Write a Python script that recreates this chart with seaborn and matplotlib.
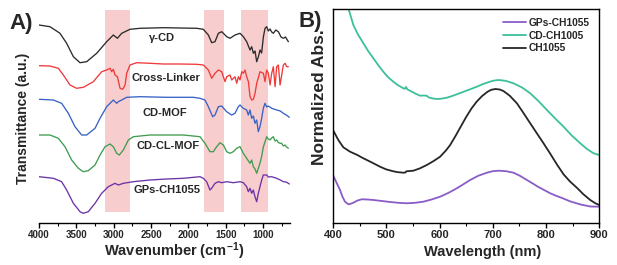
import numpy as np
import pandas as pd
import matplotlib
matplotlib.use("Agg")
import matplotlib.pyplot as plt
import seaborn as sns
from matplotlib.ticker import MultipleLocator

# ---------------- Panel A : FTIR spectra (wavenumber, offset transmittance a.u.) -------------
gcd_w = [4000, 3853, 3719, 3630, 3540, 3451, 3362, 3228, 3094, 3005, 2951, 2893, 2782, 2648, 2335,
         1889, 1800, 1733, 1688, 1644, 1599, 1554, 1487, 1443, 1376, 1309, 1264, 1220, 1175, 1153,
         1130, 1108, 1086, 1063, 1041, 1020, 996, 974, 952, 930, 907, 885, 863, 830, 796, 760, 729, 700, 662]
gcd_t = [198, 196.3, 189.7, 179.7, 166.3, 160.3, 161.3, 169.7, 181.3, 188, 184.7, 189.7, 193.7, 194.7, 195.3,
         194.7, 193.7, 188, 180.3, 181.3, 189.7, 191.3, 186.3, 184.7, 188, 189.7, 186.3, 181.3, 173, 176.3,
         169.7, 172, 161.3, 166.3, 173, 170, 186.3, 194.7, 196.3, 192, 194, 191, 189.7, 193, 191.3, 186, 184.7, 186, 181.3]

cl_w = [4000, 3853, 3741, 3674, 3585, 3496, 3406, 3273, 3161, 3094, 3049, 3027, 3005, 2982, 2951, 2915,
        2880, 2848, 2826, 2782, 2692, 2514, 2335, 2112, 1889, 1800, 1733, 1688, 1644, 1599, 1554, 1510,
        1487, 1443, 1420, 1376, 1353, 1331, 1309, 1286, 1264, 1242, 1220, 1197, 1175, 1153, 1130, 1108,
        1086, 1041, 996, 974, 952, 930, 907, 885, 863, 840, 818, 796, 773, 751, 729, 706, 684, 662]
cl_t = [157.3, 157, 154.7, 148, 138, 134.7, 135.7, 141.3, 151.3, 153, 154.7, 151.3, 153.7, 148, 146.3, 134.7,
        133.7, 138, 149.7, 158, 160.3, 159.7, 159, 159, 158.7, 158, 153, 144.7, 149.7, 153, 151.3, 141.3,
        146.3, 148, 143, 146.3, 139.7, 146.3, 143, 151.3, 149.7, 153, 146.3, 141.3, 126.3, 123, 123.7, 129.7,
        139.7, 151.3, 149.7, 141.3, 153, 149.7, 138, 149.7, 156.3, 136.3, 156.3, 158, 138, 148, 158, 159.7, 156.3, 156.3]

mof_w = [4000, 3808, 3697, 3607, 3518, 3429, 3362, 3250, 3183, 3094, 3005, 2960, 2938, 2893, 2826, 2648,
         2291, 1934, 1845, 1778, 1733, 1675, 1644, 1599, 1555, 1488, 1421, 1376, 1332, 1309, 1265, 1220,
         1198, 1175, 1153, 1130, 1109, 1086, 1064, 1042, 1019, 997, 975, 952, 930, 885, 818, 770, 729, 690, 649]
mof_t = [123.7, 123, 119.7, 109.7, 96.3, 88, 88, 94.7, 104.7, 116.3, 123, 119.7, 121.3, 123, 125.7, 126.3,
         125.7, 125.7, 124.7, 123, 116.3, 106.3, 108, 116.3, 117, 111.3, 108, 109.7, 116.3, 118, 114.7, 113,
         108, 113, 104.7, 107, 99.7, 103, 91.3, 96.3, 104.7, 114.7, 119.7, 116, 117, 114.7, 113, 112, 109.7, 108, 105.7]

clmof_w = [4000, 3853, 3741, 3652, 3563, 3473, 3407, 3340, 3250, 3183, 3116, 3050, 3005, 2960, 2925, 2871,
           2804, 2737, 2514, 2068, 1845, 1778, 1711, 1666, 1622, 1577, 1532, 1488, 1443, 1399, 1354, 1309,
           1287, 1265, 1220, 1175, 1153, 1131, 1108, 1086, 1064, 1042, 1020, 997, 974, 952, 930, 908, 885,
           863, 840, 818, 796, 773, 752, 730, 707, 685, 662]
clmof_t = [88, 88, 84.7, 76.3, 63, 54.7, 51.3, 52.3, 58, 68, 76.3, 79, 76.3, 69.7, 68, 73,
           83, 86.3, 88, 88, 86.3, 79.7, 71.3, 71.3, 76.3, 80.3, 78, 71.3, 69.7, 71.3, 74.7, 76.3,
           73, 69.7, 64.7, 59.7, 63, 56.3, 54, 49.7, 54.7, 59.7, 66.3, 76, 81.3, 86.3, 84, 83, 85,
           86.3, 82, 83, 80.5, 79.7, 79.7, 77, 78, 76, 74.7]

gps_w = [4000, 3808, 3697, 3630, 3540, 3451, 3407, 3340, 3250, 3161, 3072, 2983, 2938, 2871, 2737, 2514,
         2291, 2068, 1845, 1800, 1756, 1711, 1689, 1644, 1599, 1555, 1488, 1399, 1309, 1265, 1220, 1198,
         1175, 1153, 1131, 1109, 1086, 1064, 1042, 1019, 997, 952, 930, 885, 818, 770, 729, 690, 649]
gps_t = [46.3, 44.7, 41.3, 33, 19.7, 11.3, 9.7, 11.3, 19.7, 29.7, 36.3, 39.7, 38, 39.7, 41.3, 43,
         44, 44.7, 46.3, 44.7, 41.3, 33, 34.7, 39.7, 41.3, 40.3, 41.3, 40.3, 41.3, 40.3, 36.3, 31.3,
         34.7, 29.7, 33, 26.3, 21.3, 29.7, 36.3, 43, 48, 48, 46, 46.3, 44.7, 43, 41.3, 41, 39]

ftir_names = ["γ-CD", "Cross-Linker", "CD-MOF", "CD-CL-MOF", "GPs-CH1055"]
ftir_colors = ["#2b2b2b", "#f03a3a", "#3763c6", "#3f9c50", "#6a33a8"]
ftir_label_w = [2353, 2296, 2313, 2273, 2280]
ftir_label_t = [185.3, 144.7, 110, 77, 33]
bands = [(3120, 2780), (1785, 1520), (1290, 940)]

# ---------------- Panel B : UV-Vis-NIR absorbance -------------
gpsB_nm = [400, 406, 413.2, 418, 422.6, 428.8, 433, 438.2, 446, 454, 465, 475.8, 492, 507.1, 523, 538.5,
           554, 569.7, 585, 601.1, 617, 632.5, 645, 657.5, 673, 688.9, 700, 710.7, 725, 738.9, 751,
           764.1, 775, 785, 797, 808, 820, 830, 845.5, 865, 883, 900]
gpsB_a = [48, 41, 33, 26, 21.3, 18.7, 19.2, 20.3, 22.5, 23.7, 23.5, 23, 22, 21, 20.2, 19.7,
          20.2, 21.3, 23.5, 26.3, 30.2, 34.7, 38.8, 43, 47.3, 50.3, 51.8, 52.3, 51.8, 50.3, 47.2,
          43, 39.5, 36.2, 32.8, 29.7, 27, 25, 21.6, 18.5, 16.5, 16.3]

cd_nm = [400, 413, 428.8, 438.2, 447, 457, 466, 475.8, 485, 494.5, 503, 513.3, 522, 532.1, 535, 537, 540,
         544.7, 554, 563.5, 570, 576.1, 580, 587, 594.9, 603, 613.7, 622, 632.5, 645, 657.5, 670.1, 680,
         690, 700, 710.7, 724, 738.9, 755, 770.3, 786, 801.7, 817, 832.9, 848, 864.3, 877, 889.3, 900]
cd_a = [270, 243, 214.7, 198, 188.5, 179.7, 172, 164.7, 157.8, 151.3, 146, 141.3, 137.8, 134.7, 134.2, 136, 133.5,
        132.3, 129.6, 127.3, 127.5, 127.2, 125.5, 124.6, 124, 124.3, 125.3, 126.7, 128.7, 131.2, 133.7, 136.3, 138.6,
        140.5, 142.2, 143, 142.2, 139.7, 135.5, 129.7, 121.8, 113, 104.6, 96.3, 87.6, 79.7, 74, 69.7, 68]

ch_nm = [400, 410, 419.4, 432, 445, 457, 473, 488.3, 500, 513.3, 522, 532.1, 536, 537.5, 550.9, 563,
         576.1, 589, 601.1, 612, 620, 630, 640, 650, 660, 670, 680, 690, 697, 705, 713, 720, 732,
         745.3, 757, 770.3, 783, 795.3, 808, 820.5, 833, 845, 858, 870, 883, 893, 900]
ch_a = [93, 83, 75.7, 71.3, 68.2, 64.7, 60.5, 56.3, 53.6, 51.7, 50.8, 50.3, 50.5, 51.7, 52.3, 54.6,
        58, 62, 66.3, 72.5, 78, 87, 96.5, 106, 114.5, 121.5, 127, 131.2, 133.2, 134, 133.5, 132, 127.2,
        119.7, 110.5, 99.7, 89.5, 79.7, 69.2, 58.5, 48.6, 41.5, 35.2, 28.8, 23, 19.6, 18]

uv_names = ["GPs-CH1055", "CD-CH1005", "CH1055"]
uv_colors = ["#8a5cc6", "#3cc09c", "#262626"]

# ---------------- style -------------
sns.set_style("ticks")
plt.rcParams["font.family"] = ["Liberation Sans", "DejaVu Sans"]
plt.rcParams["font.weight"] = "bold"
plt.rcParams["mathtext.default"] = "regular"
plt.rcParams["lines.solid_joinstyle"] = "round"

W, H = 617, 265
fig = plt.figure(figsize=(W / 100, H / 100), dpi=100)
axA = fig.add_axes([39 / W, 42 / H, 251 / W, 214 / H])
axB = fig.add_axes([333 / W, 42 / H, 266.3 / W, 214 / H])

# Panel A
for (a, b) in bands:
    axA.axvspan(a, b, ymin=11 / 214, ymax=213 / 214, color="#f8cdcd", lw=0, zorder=0)
ftir = [(gcd_w, gcd_t), (cl_w, cl_t), (mof_w, mof_t), (clmof_w, clmof_t), (gps_w, gps_t)]
for (w, t), c in zip(ftir, ftir_colors):
    sns.lineplot(x=w, y=t, ax=axA, color=c, lw=0.95, estimator=None, zorder=2)
for name, lx, ly in zip(ftir_names, ftir_label_w, ftir_label_t):
    axA.text(lx, ly, name, ha="center", va="center", fontsize=8, fontweight="bold", zorder=3)
axA.set_xlim(4000, 640)
axA.set_ylim(0, 214)
axA.set_yticks([])
axA.xaxis.set_major_locator(MultipleLocator(500))
axA.xaxis.set_minor_locator(MultipleLocator(250))
for s in ["top", "right", "left"]:
    axA.spines[s].set_visible(False)
axA.spines["bottom"].set_linewidth(1.0)
axA.spines["bottom"].set_color("black")
axA.tick_params(axis="x", which="major", direction="out", length=3.5, width=1, labelsize=7, pad=1.5, color="black")
axA.tick_params(axis="x", which="minor", direction="out", length=2, width=0.8, color="black")
axA.set_xlabel("")
axA.set_ylabel("")

# Panel B
uv = [(gpsB_nm, gpsB_a), (cd_nm, cd_a), (ch_nm, ch_a)]
for (x, y), c, n in zip(uv, uv_colors, uv_names):
    sns.lineplot(x=x, y=y, ax=axB, color=c, lw=1.3, estimator=None, label=n)
axB.set_xlim(400, 900)
axB.set_ylim(0, 214)
axB.set_yticks([])
axB.xaxis.set_major_locator(MultipleLocator(100))
axB.xaxis.set_minor_locator(MultipleLocator(50))
for s in axB.spines.values():
    s.set_linewidth(1.0)
    s.set_color("black")
axB.tick_params(axis="x", which="major", direction="out", length=3.5, width=1, labelsize=8, pad=1.5, color="black")
axB.tick_params(axis="x", which="minor", direction="out", length=2, width=0.8, color="black")
axB.set_xlabel("")
axB.set_ylabel("")
axB.legend(loc="upper left", bbox_to_anchor=(503 / W, 1 - 18 / H), bbox_transform=fig.transFigure,
           frameon=False, fontsize=7.4, handlelength=2.2, handletextpad=0.3, labelspacing=0.25,
           borderpad=0, borderaxespad=0)

# figure texts
fig.text(174.5 / W, 1 - 251.7 / H, "Wavenumber (cm$^{-1}$)", ha="center", va="center", fontsize=10.5, fontweight="bold")
fig.text(483 / W, 1 - 251.7 / H, "Wavelength (nm)", ha="center", va="center", fontsize=10.5, fontweight="bold")
fig.text(23 / W, 1 - 118.5 / H, "Transmittance (a.u.)", rotation=90, ha="center", va="center", fontsize=10, fontweight="bold")
fig.text(320 / W, 1 - 97.5 / H, "Normalized Abs.", rotation=90, ha="center", va="center", fontsize=12.5, fontweight="bold")
fig.text(21.5 / W, 1 - 23 / H, "A)", ha="center", va="center", fontsize=16, fontweight="bold")
fig.text(310 / W, 1 - 21 / H, "B)", ha="center", va="center", fontsize=16, fontweight="bold")

fig.savefig("out.png", dpi=100)
